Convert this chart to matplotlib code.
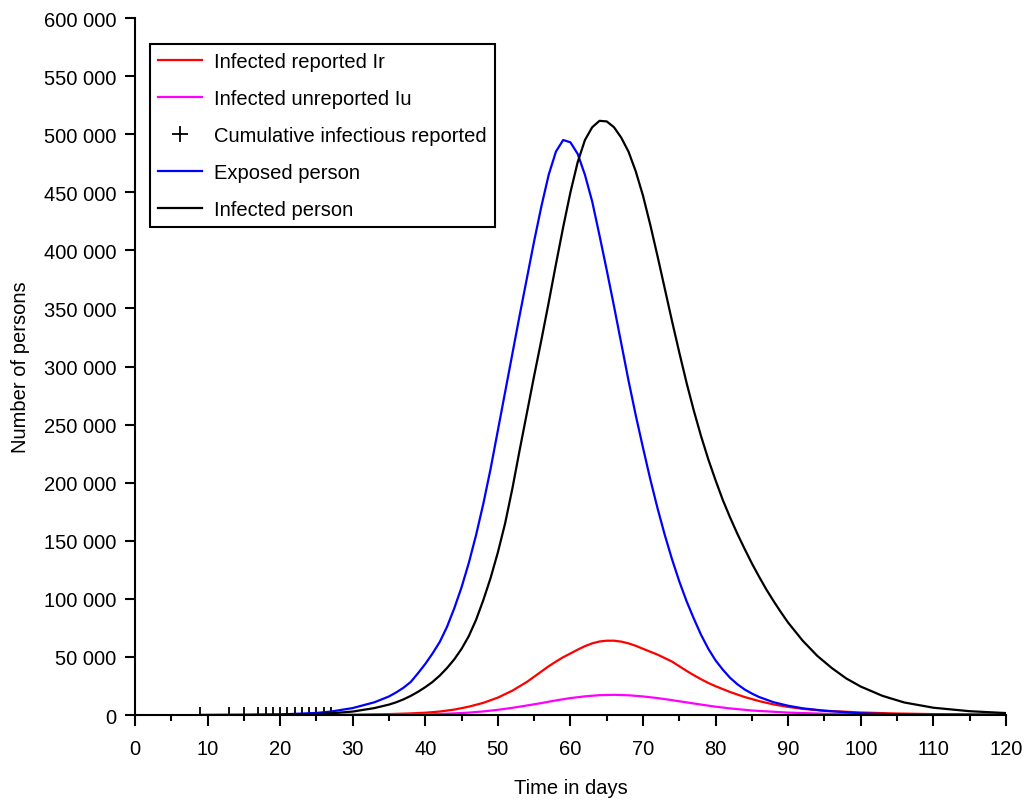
"""
Epidemic model output: exposed, infected, reported and unreported
compartments over 120 days, with the early cumulative reported cases.
"""

import matplotlib
matplotlib.use("Agg")
import matplotlib.pyplot as plt
from matplotlib.ticker import FuncFormatter, MultipleLocator

plt.rcParams["font.family"] = ["Liberation Sans", "DejaVu Sans"]

# Exposed person (blue)
exposed_days = [9, 15, 20, 25, 27, 30, 33, 35, 36, 37, 38, 39, 40, 41, 42, 43, 44, 45, 46,
                47, 48, 49, 50, 51, 52, 53, 54, 55, 56, 57, 58, 59, 60, 61, 62, 63, 64, 65,
                66, 67, 68, 69, 70, 71, 72, 73, 74, 75, 76, 77, 78, 79, 80, 81, 82, 83, 84,
                85, 86, 88, 90, 92, 95, 100, 105, 110, 120]
exposed = [0, 150, 500, 1800, 3000, 6000, 11000, 16000, 19500, 23500, 28500, 36000, 44000,
           53000, 63000, 76000, 92000, 110000, 131000, 155000, 182000, 212000, 245000,
           278000, 311000, 344000, 376000, 408000, 438000, 465000, 485000, 495000, 493000,
           483000, 465000, 442000, 413000, 383000, 352000, 320000, 288000, 258000, 230000,
           203000, 178000, 155000, 134000, 115000, 98000, 83000, 69000, 57000, 47000, 39000,
           32000, 26500, 22000, 18500, 15500, 11000, 8000, 5800, 3700, 1500, 600, 300, 100]

# Infected person (black)
infected_days = [9, 15, 20, 25, 27, 30, 33, 35, 36, 37, 38, 39, 40, 41, 42, 43, 44, 45, 46,
                 47, 48, 49, 50, 51, 52, 53, 54, 55, 56, 57, 58, 59, 60, 61, 62, 63, 64, 65,
                 66, 67, 68, 69, 70, 71, 72, 73, 74, 75, 76, 77, 78, 79, 80, 81, 82, 83, 84,
                 85, 86, 87, 88, 89, 90, 92, 94, 96, 98, 100, 103, 106, 110, 115, 120]
infected = [0, 100, 300, 900, 1500, 3000, 6000, 9000, 11000, 13500, 16500, 20000, 24000,
            28500, 34000, 40500, 48000, 57000, 68000, 82000, 99000, 118000, 140000, 165000,
            195000, 228000, 260000, 292000, 323000, 355000, 388000, 420000, 450000, 476000,
            495000, 506000, 511500, 511000, 506000, 497000, 485000, 468000, 447000, 422000,
            395000, 367000, 339000, 312000, 286000, 262000, 240000, 220000, 202000, 185000,
            170000, 156000, 143000, 130500, 119000, 108000, 98000, 88500, 79500, 64000,
            51000, 40500, 31500, 24500, 16500, 10800, 6300, 3300, 1700]

# Infected reported Ir (red)
reported_days = [9, 20, 30, 35, 38, 40, 42, 44, 46, 48, 50, 52, 54, 55, 56, 57, 58, 59, 60,
                 61, 62, 63, 64, 65, 66, 67, 68, 69, 70, 71, 72, 73, 74, 75, 76, 77, 78, 79,
                 80, 82, 84, 86, 88, 90, 92, 95, 100, 105, 110, 120]
reported = [0, 30, 250, 800, 1400, 2000, 3000, 4700, 7200, 10500, 15000, 21000, 28500,
            33000, 37500, 42000, 46000, 49800, 53000, 56300, 59300, 61700, 63300, 64000,
            64000, 63200, 61700, 59600, 57000, 54500, 52000, 49000, 46000, 42000, 38000,
            34300, 30800, 27600, 24800, 19800, 15500, 12000, 9100, 7000, 5300, 3700, 2200,
            1300, 800, 400]

# Infected unreported Iu (magenta)
unreported_days = [9, 20, 30, 40, 42, 44, 46, 48, 50, 52, 54, 56, 58, 60, 62, 64, 66, 68, 70,
                   72, 74, 76, 78, 80, 82, 85, 90, 95, 100, 110, 120]
unreported = [0, 10, 70, 550, 900, 1400, 2100, 3100, 4500, 6200, 8200, 10300, 12600, 14600,
              16100, 17100, 17400, 17000, 16000, 14600, 12800, 10900, 9000, 7200, 5700, 3900,
              2100, 1100, 600, 250, 120]

# Cumulative infectious reported (data points)
data_days = [9, 13, 15, 17, 18, 19, 20, 21, 22, 23, 24, 25, 26, 27]
data_cases = [1, 2, 3, 4, 5, 7, 9, 12, 15, 19, 24, 30, 37, 45]

fig = plt.figure(figsize=(10.35, 8.03), dpi=100)
ax = fig.add_axes([0.1304, 0.1083, 0.8415, 0.868])

ax.plot(reported_days, reported, color="#ff0000", lw=1.6, label="Infected reported Ir")
ax.plot(unreported_days, unreported, color="#ff00ff", lw=1.6, label="Infected unreported Iu")
ax.plot(data_days, data_cases, linestyle="none", marker="+", color="black",
        markersize=11, markeredgewidth=1.3, label="Cumulative infectious reported")
ax.plot(exposed_days, exposed, color="#0000ff", lw=1.6, label="Exposed person")
ax.plot(infected_days, infected, color="black", lw=1.6, label="Infected person")

ax.set_xlim(0, 120)
ax.set_ylim(0, 600000)
ax.xaxis.set_major_locator(MultipleLocator(10))
ax.xaxis.set_minor_locator(MultipleLocator(5))
ax.yaxis.set_major_locator(MultipleLocator(50000))
ax.yaxis.set_major_formatter(FuncFormatter(lambda v, p: f"{v:,.0f}".replace(",", " ")))

for side in ["top", "right"]:
    ax.spines[side].set_visible(False)
for side in ["left", "bottom"]:
    ax.spines[side].set_linewidth(1.5)

ax.tick_params(axis="y", which="major", direction="out", length=7.5, width=1.5,
               labelsize=14.5, pad=6)
ax.tick_params(axis="x", which="major", direction="out", length=8, width=1.5,
               labelsize=14.5, pad=9)
ax.tick_params(axis="x", which="minor", direction="out", length=4.5, width=1.5)

ax.set_xlabel("Time in days", fontsize=14.5, labelpad=15)
ax.set_ylabel("Number of persons", fontsize=14.5, labelpad=10)

leg = ax.legend(loc="upper left", bbox_to_anchor=(0.0172, 0.963), borderaxespad=0,
                fontsize=14.5, frameon=True, fancybox=False, handlelength=2.15,
                handletextpad=0.6, labelspacing=0.89, borderpad=0.42)
leg.get_frame().set_edgecolor("black")
leg.get_frame().set_linewidth(1.5)
leg.get_frame().set_alpha(1)

fig.savefig("out.png", dpi=100)
